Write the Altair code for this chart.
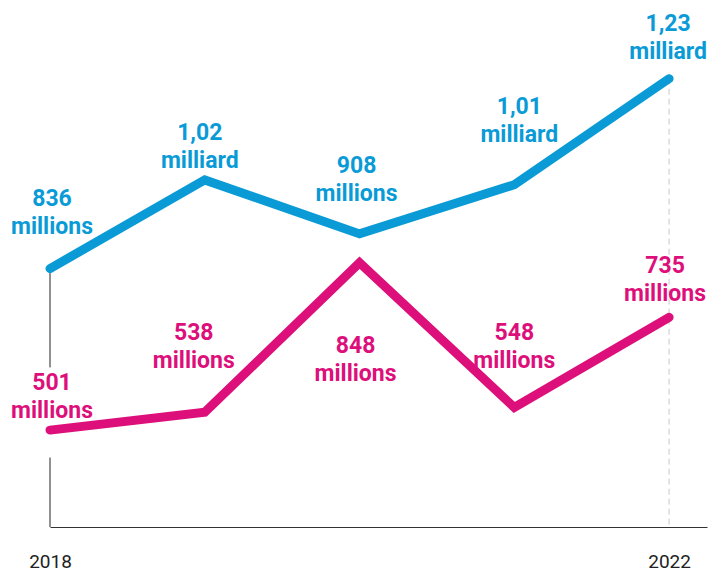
import altair as alt
import pandas as pd

years = [2018, 2019, 2020, 2021, 2022]
series_a = [836, 1020, 908, 1010, 1230]
series_b = [501, 538, 848, 548, 735]
nums_a = ["836", "1,02", "908", "1,01", "1,23"]
units_a = ["millions", "milliard", "millions", "milliard", "milliard"]
nums_b = ["501", "538", "848", "548", "735"]
units_b = ["millions", "millions", "millions", "millions", "millions"]
tick_years = [2018, 2022]

# guide segments: year, value, group
guide_year = [2018, 2018, 2018, 2018, 2022, 2022]
guide_value = [836, 631, 444, 300, 1230, 300]
guide_group = ["s1", "s1", "s2", "s2", "d1", "d1"]

BLUE = "#0a9bd7"
PINK = "#dd0f7b"

rows = []
for i, y in enumerate(years):
    rows.append({"year": y, "value": series_a[i], "series": "A", "num": nums_a[i], "unit": units_a[i]})
for i, y in enumerate(years):
    rows.append({"year": y, "value": series_b[i], "series": "B", "num": nums_b[i], "unit": units_b[i]})
df = pd.DataFrame(rows)

gdf = pd.DataFrame({"year": guide_year, "value": guide_value, "grp": guide_group})

offs = {
    ("A", 2018): (2, -63), ("A", 2019): (-5, -40), ("A", 2020): (-3, -61),
    ("A", 2021): (5, -71), ("A", 2022): (-1, -48),
    ("B", 2018): (2, -40), ("B", 2019): (-11, -72), ("B", 2020): (-4, 90),
    ("B", 2021): (0, -67), ("B", 2022): (-4, -44),
}

xs = alt.Scale(domain=[2018, 2022.245], nice=False, zero=False)
ys = alt.Scale(domain=[300, 1250], nice=False, zero=False)

x_axis = alt.Axis(values=tick_years, format="d", title=None, grid=False,
                  ticks=False, labelPadding=25, labelFontSize=19, labelFlush=False,
                  labelFont="Roboto", labelColor="#222", domainColor="#333")
x_enc = alt.X("year:Q", scale=xs, axis=x_axis)
y_enc = alt.Y("value:Q", scale=ys, axis=None)

guide_solid = alt.Chart(gdf[gdf.grp.str.startswith("s")]).mark_line(
    color="#222", strokeWidth=1).encode(x=x_enc, y=y_enc, detail="grp:N")
guide_dash = alt.Chart(gdf[gdf.grp.str.startswith("d")]).mark_line(
    color="#c8c8c8", strokeWidth=1, strokeDash=[6, 4]).encode(x=x_enc, y=y_enc, detail="grp:N")

lines = alt.Chart(df).mark_line(strokeWidth=9, strokeCap="round", strokeJoin="miter").encode(
    x=x_enc, y=y_enc,
    color=alt.Color("series:N", scale=alt.Scale(domain=["A", "B"], range=[BLUE, PINK]), legend=None),
)

layers = [guide_solid, guide_dash, lines]
for (s, yr), (dx, dy) in offs.items():
    col = BLUE if s == "A" else PINK
    sub = df[(df.series == s) & (df.year == yr)]
    for field, extra in (("num", 0), ("unit", 28)):
        t = alt.Chart(sub).mark_text(
            font="Roboto", fontSize=23, fontWeight="bold", color=col, align="center",
            baseline="alphabetic", dx=dx, dy=dy + extra).encode(
            x=x_enc, y=y_enc, text=alt.Text(f"{field}:N"))
        layers.append(t)

chart = alt.layer(*layers).properties(
    width=657, height=458, autosize="none",
    padding={"left": 42, "top": 61, "right": 3, "bottom": 44},
).configure_view(strokeWidth=0)

chart.save("out.html", embed_options={"renderer": "svg", "actions": False})
